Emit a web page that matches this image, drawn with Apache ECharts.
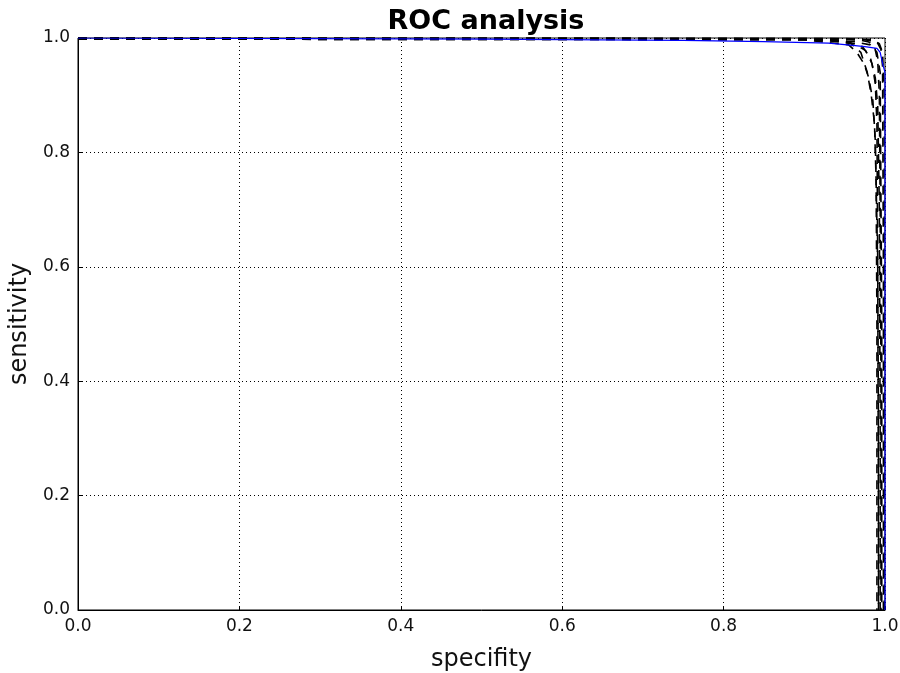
<!DOCTYPE html>
<html>
<head>
<meta charset="utf-8">
<script src="https://cdn.jsdelivr.net/npm/echarts@6/dist/echarts.min.js"></script>
<style>
  html, body { margin: 0; padding: 0; background: #fff; }
  #chart { width: 900px; height: 673px; }
</style>
</head>
<body>
<div id="chart"></div>
<script>
// Tick labels
const xTicks = [0.0, 0.2, 0.4, 0.6, 0.8, 1.0];
const yTicks = [0.0, 0.2, 0.4, 0.6, 0.8, 1.0];

// Individual ROC curves (specifity, sensitivity), dashed black
const rocRun1 = [[0,1],[0.6,1],[0.9,0.999],[0.95,0.998],[0.97,0.996],[0.98,0.993],[0.987,0.985],[0.991,0.96],[0.993,0.9],[0.994,0.7],[0.995,0.4],[0.995,0]];
const rocRun2 = [[0,0.999],[0.85,0.998],[0.94,0.996],[0.958,0.99],[0.97,0.975],[0.978,0.94],[0.983,0.9],[0.987,0.85],[0.989,0.75],[0.99,0.5],[0.99,0]];
const rocRun3 = [[0,0.998],[0.9,0.997],[0.955,0.988],[0.965,0.975],[0.974,0.955],[0.98,0.93],[0.985,0.89],[0.988,0.82],[0.991,0.6],[0.992,0.3],[0.992,0]];
const rocRun4 = [[0,1],[0.93,0.999],[0.975,0.997],[0.99,0.993],[0.995,0.98],[0.997,0.95],[0.998,0.6],[0.998,0]];
const rocRun5 = [[0,0.999],[0.9,0.998],[0.96,0.994],[0.982,0.988],[0.99,0.975],[0.994,0.94],[0.996,0.5],[0.996,0]];
const rocRun6 = [[0,0.999],[0.88,0.998],[0.95,0.995],[0.972,0.985],[0.982,0.965],[0.988,0.93],[0.991,0.88],[0.993,0.7],[0.994,0.3],[0.994,0]];
const rocRun7 = [[0,1],[0.95,0.999],[0.985,0.997],[0.993,0.99],[0.997,0.975],[0.999,0.9],[0.999,0]];
const rocRun8 = [[0,0.998],[0.92,0.997],[0.962,0.99],[0.976,0.978],[0.984,0.955],[0.988,0.92],[0.99,0.85],[0.991,0.6],[0.992,0.1],[0.992,0]];

// Mean ROC curve, solid blue
const rocMean = [[0,1],[0.5,0.998],[0.75,0.996],[0.85,0.9935],[0.93,0.991],[0.96,0.987],[0.975,0.985],[0.99,0.982],[0.994,0.975],[0.996,0.962],[0.998,0.95],[1.0,0.94],[1.0,0]];

const runs = [rocRun1, rocRun2, rocRun3, rocRun4, rocRun5, rocRun6, rocRun7, rocRun8];

const fontFam = 'DejaVu Sans';

const chart = echarts.init(document.getElementById('chart'), null, { renderer: 'canvas' });

const dashedSeries = runs.map(d => ({
  type: 'line',
  data: d,
  showSymbol: false,
  silent: true,
  animation: false,
  lineStyle: { color: '#000', width: 1.6, type: [9, 7] }
}));

const axisCommon = {
  type: 'value',
  min: 0,
  max: 1,
  interval: 0.2,
  axisLine: { show: true, lineStyle: { color: '#000', width: 1 } },
  axisTick: { show: true, inside: true, length: 4, lineStyle: { color: '#000' } },
  splitLine: { show: true, lineStyle: { color: '#000', type: [1, 3], width: 1 } },
  axisLabel: {
    color: '#111',
    fontFamily: fontFam,
    fontSize: 17,
    formatter: v => v.toFixed(1)
  },
  nameTextStyle: { color: '#111', fontFamily: fontFam, fontSize: 24 }
};

chart.setOption({
  animation: false,
  backgroundColor: '#fff',
  title: {
    text: 'ROC analysis',
    left: 481,
    textAlign: 'center',
    top: 3,
    textStyle: { fontFamily: fontFam, fontWeight: 'bold', fontSize: 27, color: '#000' }
  },
  grid: {
    left: 78, right: 15, top: 38, bottom: 63,
    outerBoundsMode: 'none',
    containLabel: false,
    show: true, borderColor: '#000', borderWidth: 1, backgroundColor: 'transparent'
  },
  xAxis: Object.assign({}, axisCommon, {
    name: 'specifity',
    nameLocation: 'middle',
    nameGap: 38,
    axisLabel: Object.assign({}, axisCommon.axisLabel, { margin: 8 })
  }),
  yAxis: Object.assign({}, axisCommon, {
    name: 'sensitivity',
    nameLocation: 'middle',
    nameGap: 44,
    axisLabel: Object.assign({}, axisCommon.axisLabel, { margin: 8 })
  }),
  series: dashedSeries.concat([{
    type: 'line',
    data: rocMean,
    showSymbol: false,
    silent: true,
    animation: false,
    lineStyle: { color: '#0000ff', width: 1.2 }
  }])
});
</script>
</body>
</html>
